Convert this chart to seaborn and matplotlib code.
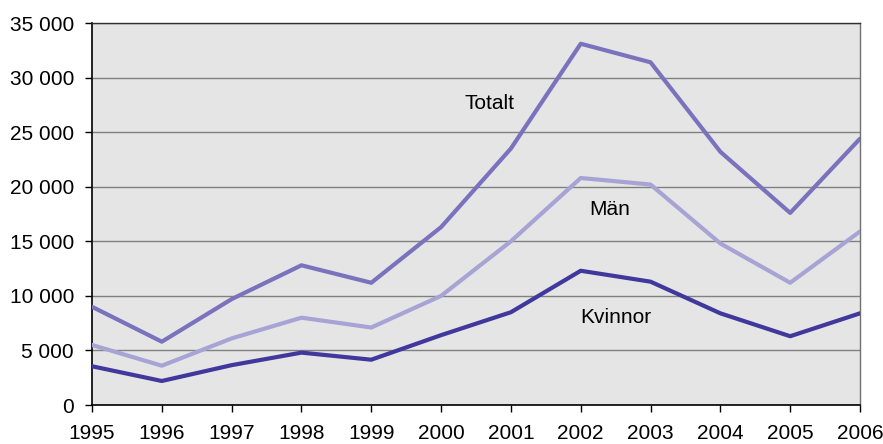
import matplotlib
matplotlib.use("Agg")
import matplotlib.pyplot as plt
import seaborn as sns
import pandas as pd
from matplotlib.ticker import FuncFormatter, MultipleLocator

years = list(range(1995, 2007))
totalt = [9000, 5800, 9700, 12800, 11200, 16300, 23500, 33100, 31400, 23200, 17600, 24400]
man = [5500, 3600, 6100, 8000, 7100, 10000, 15000, 20800, 20200, 14800, 11200, 15900]
kvinnor = [3550, 2200, 3650, 4800, 4150, 6400, 8500, 12300, 11300, 8400, 6300, 8400]
series_names = ["Totalt", "Män", "Kvinnor"]
colors = ["#7B72BD", "#A9A3D5", "#41389D"]

df = pd.concat([
    pd.DataFrame({"År": years, "Antal": vals, "Serie": name})
    for name, vals in zip(series_names, [totalt, man, kvinnor])
])

sns.set_theme(style="white")
plt.rcParams["font.family"] = ["Liberation Sans", "DejaVu Sans"]

fig = plt.figure(figsize=(8.83, 4.44), dpi=100)
ax = fig.add_axes([92/883, 39/444, (860-92)/883, (405-23)/444])
ax.set_facecolor("#E5E5E5")

sns.lineplot(data=df, x="År", y="Antal", hue="Serie", palette=dict(zip(series_names, colors)),
             linewidth=3.0, ax=ax, legend=False, zorder=3)

ax.set_xlim(1995, 2006)
ax.set_ylim(0, 35000)
ax.yaxis.set_major_locator(MultipleLocator(5000))
ax.set_xticks(years)
ax.yaxis.set_major_formatter(FuncFormatter(lambda v, p: f"{int(v):,}".replace(",", " ")))
ax.grid(axis="y", color="#808080", linewidth=1.0)
ax.set_axisbelow(True)
ax.set_xlabel("")
ax.set_ylabel("")
ax.tick_params(axis="both", direction="out", length=5, width=1, color="black",
               labelsize=15, labelcolor="black", bottom=True, left=True)
ax.tick_params(axis="x", pad=9)
ax.tick_params(axis="y", pad=8)
for s in ["left", "bottom"]:
    ax.spines[s].set_color("black")
    ax.spines[s].set_linewidth(1.2)
ax.spines["top"].set_color("#303030")
ax.spines["top"].set_linewidth(1.0)
ax.spines["right"].set_color("#707070")
ax.spines["right"].set_linewidth(1.0)

ax.text(2000.7, 27600, "Totalt", fontsize=15, ha="center", va="center", color="black")
ax.text(2002.42, 17900, "Män", fontsize=15, ha="center", va="center", color="black")
ax.text(2002.5, 8050, "Kvinnor", fontsize=15, ha="center", va="center", color="black")

fig.savefig("out.png", dpi=100)
